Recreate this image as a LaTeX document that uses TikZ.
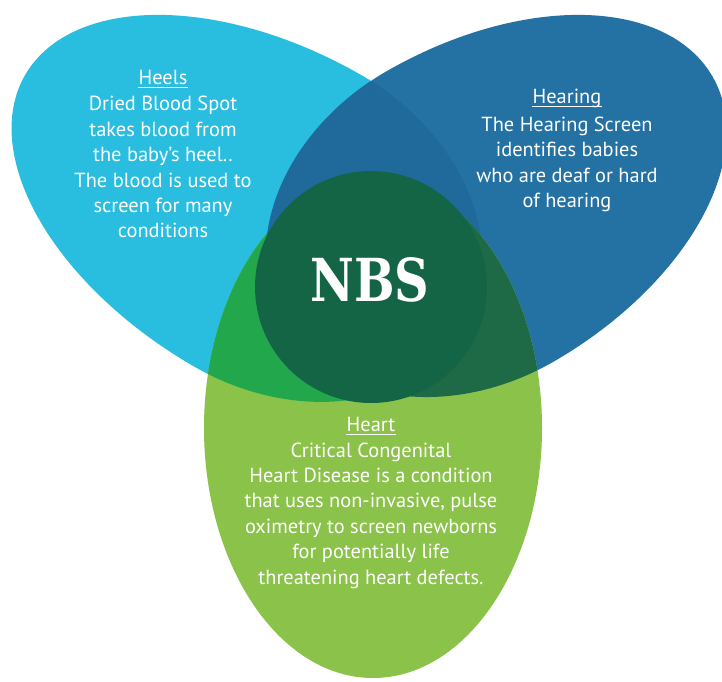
\documentclass[tikz,border=0pt]{standalone}
\usepackage{fontspec}
\setmainfont{PT Sans}
\newfontfamily\nbsfont{DejaVu Serif}
\definecolor{cL}{RGB}{41,189,224}
\definecolor{cR}{RGB}{36,113,163}
\definecolor{cG}{RGB}{138,194,74}
\definecolor{cLR}{RGB}{31,106,155}
\definecolor{cLG}{RGB}{34,167,76}
\definecolor{cRG}{RGB}{30,106,71}
\definecolor{cC}{RGB}{19,101,70}
\tikzset{
  bodytext/.style={anchor=base, inner sep=0pt, text=white, font=\fontsize{20.4}{25}\selectfont},
  titletext/.style={bodytext},
  uline/.style={draw=white, line width=1.4pt},
}
% egg: cx, cy, angle, a (positive side), a (negative side), b
\newcommand\eggpath[6]{plot[domain=0:360, samples=241, variable=\t]
  ({#1 + ((cos(\t)>0)?#4:#5)*cos(\t)*cos(#3) - #6*sin(\t)*sin(#3)},
   {#2 + ((cos(\t)>0)?#4:#5)*cos(\t)*sin(#3) + #6*sin(\t)*cos(#3)}) -- cycle}
\newcommand\shapeL{\eggpath{278}{460}{-30}{215}{292}{168}}
\newcommand\shapeR{\eggpath{470}{464.5}{30}{280}{215}{167.5}}
\newcommand\shapeG{(373,253) ellipse [x radius=169, y radius=250]}
\begin{document}
\begin{tikzpicture}[x=1pt,y=1pt]
\useasboundingbox (0,0) rectangle (722,681);
\clip (0,0) rectangle (722,681);
\fill[white] (0,0) rectangle (722,681);
\fill[cL] \shapeL;
\fill[cR] \shapeR;
\fill[cG] \shapeG;
\begin{scope}
  \clip \shapeL;
  \fill[cLR] \shapeR;
\end{scope}
\begin{scope}
  \clip \shapeL;
  \fill[cLG] \shapeG;
\end{scope}
\begin{scope}
  \clip \shapeR;
  \fill[cRG] \shapeG;
\end{scope}
\fill[cC] (371,394) circle [radius=116];
\node[anchor=base, inner sep=0pt, text=white] (nbs) at (370,379.3)
  {\resizebox{119pt}{44pt}{\nbsfont\bfseries NBS}};
% Heels
\node[titletext] (heelsT) at (163,596) {Heels};
\draw[uline] ([yshift=-2.8pt]heelsT.base west) -- ([yshift=-2.8pt]heelsT.base east);
\foreach \txt [count=\i] in {Dried Blood Spot, takes blood from, the baby’s heel.., The blood is used to, screen for many, conditions}
  \node[bodytext, name=heels\i] at (163,{570-25.4*(\i-1)}) {\txt};
% Hearing
\node[titletext] (hearT) at (567,577) {Hearing};
\draw[uline] ([yshift=-2.8pt]hearT.base west) -- ([yshift=-2.8pt]hearT.base east);
\foreach \txt [count=\i] in {The Hearing Screen, identifies babies, who are deaf or hard, of hearing}
  \node[bodytext, name=hear\i] at (567,{549.5-25.4*(\i-1)}) {\txt};
% Heart
\node[titletext] (heartT) at (371,249.5) {Heart};
\draw[uline] ([yshift=-2.8pt]heartT.base west) -- ([yshift=-2.8pt]heartT.base east);
\foreach \txt [count=\i] in {Critical Congenital, Heart Disease is a condition, {that uses non-invasive, pulse}, oximetry to screen newborns, for potentially life, threatening heart defects.}
  \node[bodytext, name=heart\i] at (371,{224-25.4*(\i-1)}) {\txt};
\end{tikzpicture}
\end{document}
